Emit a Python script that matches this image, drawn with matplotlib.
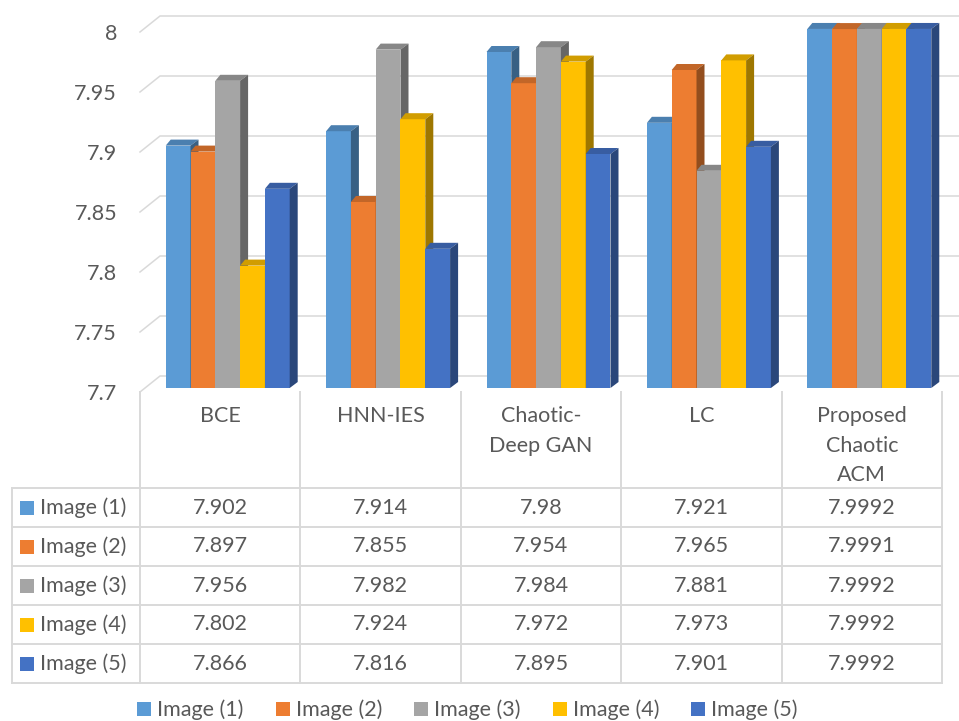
import matplotlib
matplotlib.use("Agg")
import matplotlib.pyplot as plt
import matplotlib.transforms as mtransforms
from matplotlib.patches import Polygon, Patch, Rectangle
from matplotlib.lines import Line2D
import numpy as np

# ---- data -------------------------------------------------------------
categories = ["BCE", "HNN-IES", "Chaotic-\nDeep GAN", "LC", "Proposed\nChaotic\nACM"]
series_names = ["Image (1)", "Image (2)", "Image (3)", "Image (4)", "Image (5)"]
image1 = [7.902, 7.914, 7.98, 7.921, 7.9992]
image2 = [7.897, 7.855, 7.954, 7.965, 7.9991]
image3 = [7.956, 7.982, 7.984, 7.881, 7.9992]
image4 = [7.802, 7.924, 7.972, 7.973, 7.9992]
image5 = [7.866, 7.816, 7.895, 7.901, 7.9992]
series_values = [image1, image2, image3, image4, image5]
y_ticks = [7.7, 7.75, 7.8, 7.85, 7.9, 7.95, 8.0]
y_tick_labels = ["7.7", "7.75", "7.8", "7.85", "7.9", "7.95", "8"]
y_min, y_max = 7.7, 8.0

colors = ["#5B9BD5", "#ED7D31", "#A5A5A5", "#FFC000", "#4472C4"]

# ---- style ------------------------------------------------------------
W, H, DPI = 959, 721, 100
TEXT = "#595959"
GRID = "#D9D9D9"
FS = 15.5
plt.rcParams["font.family"] = ["Lato", "DejaVu Sans"]


def shade(hex_color, f):
    r, g, b = matplotlib.colors.to_rgb(hex_color)
    return (r * f, g * f, b * f)


fig = plt.figure(figsize=(W / DPI, H / DPI), dpi=DPI)
fig.patch.set_facecolor("white")

# plot area (front plane of the 3-D box), pixel edges measured from the top-left
left_px, right_px, top_px, bot_px = 140, 942, 32, 392
ax = fig.add_axes([left_px / W, 1 - bot_px / H,
                   (right_px - left_px) / W, (bot_px - top_px) / H])
ax.set_xlim(-0.5, len(categories) - 0.5)
ax.set_ylim(y_min, y_max)
for sp in ax.spines.values():
    sp.set_visible(False)
ax.set_facecolor("none")
ax.set_xticks([])
ax.set_yticks(y_ticks)
ax.set_yticklabels(y_tick_labels, fontsize=FS, color=TEXT)
ax.tick_params(axis="y", length=0, pad=16.5)

# pixel-from-top coordinates for the table / frame
px = mtransforms.Affine2D().scale(1, -1).translate(0, H)
ident = mtransforms.IdentityTransform()

# depth offsets (display pixels, y up)
WALL = np.array([20.0, 16.0])       # back wall
BAR = np.array([7.5, 4.0])          # bar front plane
CAP_L = np.array([5.0, 6.0])        # bar depth, left edge
CAP_R = np.array([8.0, 6.0])        # bar depth, right edge

# back-wall gridlines with their left-wall diagonals
for v in y_ticks:
    p = ax.transData.transform((-0.5, v))
    q = p + WALL
    ax.add_artist(Line2D([p[0], q[0], W], [p[1], q[1], q[1]], transform=ident,
                         color=GRID, lw=1.1, zorder=1, clip_on=False))

# 3-D columns
n = len(series_names)
bar_w = 0.1546
bar_tr = mtransforms.offset_copy(ax.transData, fig=fig, x=BAR[0], y=BAR[1], units="dots")
xs = np.arange(len(categories))
for s, (vals, c) in enumerate(zip(series_values, colors)):
    vals = np.asarray(vals)
    xc = xs + (s - (n - 1) / 2) * bar_w
    z = 3 + s * 0.1
    ax.bar(xc, vals - y_min, bottom=y_min, width=bar_w, color=c,
           transform=bar_tr, zorder=z, clip_on=False, linewidth=0)
    for x0, v in zip(xc, vals):
        tl = bar_tr.transform((x0 - bar_w / 2, v))
        tr = bar_tr.transform((x0 + bar_w / 2, v))
        br = bar_tr.transform((x0 + bar_w / 2, y_min))
        cap = Polygon([tl, tr, tr + CAP_R, tl + CAP_L], closed=True,
                      transform=ident, facecolor=shade(c, 0.82), lw=0,
                      zorder=z, clip_on=False)
        side = Polygon([tr, tr + CAP_R, br + CAP_R, br], closed=True,
                       transform=ident, facecolor=shade(c, 0.62), lw=0,
                       zorder=z, clip_on=False)
        ax.add_artist(cap)
        ax.add_artist(side)

# ---- data table -------------------------------------------------------
col_edges = [ax.transData.transform((i - 0.5, 0))[0] for i in range(len(categories) + 1)]
table_left = 12
row_edges = [488 + 39 * k for k in range(n + 1)]
line_kw = dict(transform=px, color=GRID, lw=1.4, clip_on=False)
for y in row_edges:
    fig.add_artist(Line2D([table_left, col_edges[-1]], [y, y], **line_kw))
fig.add_artist(Line2D([table_left, table_left], [row_edges[0], row_edges[-1]], **line_kw))
for x in col_edges:
    fig.add_artist(Line2D([x, x], [bot_px, row_edges[-1]], **line_kw))

# category headers
for i, cat in enumerate(categories):
    xc = (col_edges[i] + col_edges[i + 1]) / 2
    for k, line in enumerate(cat.split("\n")):
        fig.text(xc, 416 + 29.5 * k, line, transform=px, ha="center", va="center",
                 fontsize=FS, color=TEXT)

# rows
for s, (name, vals, c) in enumerate(zip(series_names, series_values, colors)):
    yc = (row_edges[s] + row_edges[s + 1]) / 2
    fig.add_artist(Rectangle((20, yc - 7), 14, 14, transform=px, facecolor=c, lw=0))
    fig.text(40, yc, name, transform=px, ha="left", va="center", fontsize=FS, color=TEXT)
    for i, v in enumerate(vals):
        xc = (col_edges[i] + col_edges[i + 1]) / 2
        fig.text(xc, yc, f"{v:g}", transform=px, ha="center", va="center",
                 fontsize=FS, color=TEXT)

# ---- legend -----------------------------------------------------------
fs_px = FS * DPI / 72
handles = [Patch(facecolor=c, edgecolor="none", label=nm) for c, nm in zip(colors, series_names)]
leg = fig.legend(handles=handles, loc="center", bbox_to_anchor=(467.5 / W, 1 - 710 / H),
                 ncol=n, frameon=False, fontsize=FS, handlelength=14 / fs_px,
                 handleheight=14 / fs_px, handletextpad=6 / fs_px,
                 columnspacing=32 / fs_px, borderpad=0, borderaxespad=0)
for t in leg.get_texts():
    t.set_color(TEXT)

fig.savefig("out.png", dpi=DPI, facecolor="white")
